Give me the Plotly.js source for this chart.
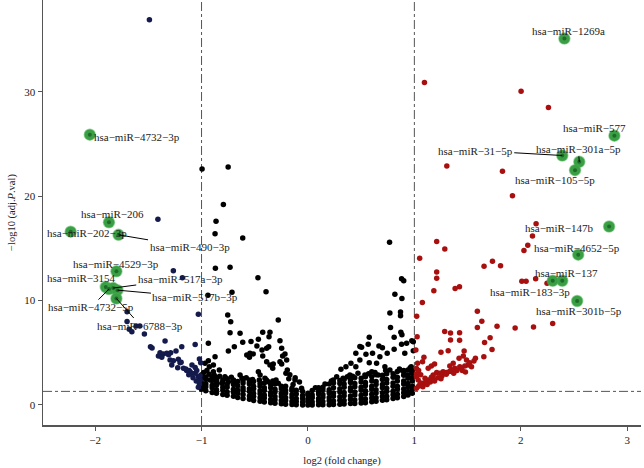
<!DOCTYPE html>
<html>
<head>
<meta charset="utf-8">
<script src="https://cdn.plot.ly/plotly-3.0.1.min.js"></script>
<style>
  html, body { margin: 0; padding: 0; background: #fff; }
  #plot { width: 644px; height: 468px; }
</style>
</head>
<body>
<div id="plot"></div>
<script>
// dense cloud of non-significant miRNAs, read column by column (x, then y values)
let denseX = [-1.00, -0.96, -0.90, -0.86, -0.80, -0.76, -0.70, -0.66, -0.61, -0.55, -0.51,
  -0.45, -0.41, -0.35, -0.31, -0.25, -0.21, -0.15, -0.11, -0.05, 0.00, 0.04, 0.10, 0.14,
  0.20, 0.24, 0.30, 0.34, 0.40, 0.44, 0.50, 0.54, 0.60, 0.64, 0.70, 0.74, 0.80, 0.84, 0.90, 0.94, 0.98];
let denseY = [
  [1.5, 1.85, 2.1, 2.55, 2.9], [1.35, 1.75, 2.0, 2.45, 2.65], [1.2, 1.65, 1.9, 2.35, 2.7],
  [1.12, 1.45, 1.9, 2.15, 2.6], [1.0, 1.42, 1.7, 2.15, 2.4], [0.92, 1.25, 1.7, 1.95, 2.5],
  [0.83, 1.22, 1.5, 1.95, 2.3], [0.72, 1.12, 1.4, 1.85, 2.25], [0.62, 1.0, 1.38, 1.65, 2.1, 2.4],
  [0.55, 0.85, 1.28, 1.55, 2.0, 2.15], [0.43, 0.82, 1.1, 1.55, 1.8, 2.25], [0.36, 0.68, 1.08, 1.35, 1.8, 2.05],
  [0.28, 0.66, 0.95, 1.38, 1.65, 2.1], [0.21, 0.52, 0.92, 1.2, 1.65, 1.95], [0.16, 0.5, 0.82, 1.25, 1.5, 2.02],
  [0.11, 0.43, 0.82, 1.1, 1.55, 1.8], [0.06, 0.42, 0.72, 1.15, 1.4, 1.8], [0.04, 0.33, 0.72, 1.0, 1.42, 1.6],
  [0.02, 0.32, 0.62, 1.05, 1.4], [0.0, 0.28, 0.62, 0.9, 1.3], [0.0, 0.32, 0.58, 0.95, 1.12],
  [0.0, 0.28, 0.68, 0.95, 1.38], [0.01, 0.35, 0.62, 1.05, 1.28, 1.65], [0.02, 0.33, 0.73, 1.0, 1.45, 1.7],
  [0.03, 0.4, 0.72, 1.15, 1.45, 2.0], [0.05, 0.38, 0.83, 1.15, 1.65, 2.1], [0.06, 0.45, 0.78, 1.25, 1.55, 2.05, 2.35],
  [0.1, 0.42, 0.88, 1.2, 1.7, 2.0, 2.45], [0.13, 0.52, 0.86, 1.35, 1.65, 2.15, 2.4], [0.15, 0.48, 0.95, 1.25, 1.75, 2.05, 2.6],
  [0.19, 0.57, 0.92, 1.4, 1.7, 2.2, 2.55], [0.22, 0.58, 1.05, 1.35, 1.85, 2.15, 2.7], [0.3, 0.67, 1.02, 1.5, 1.8, 2.3, 2.7],
  [0.35, 0.68, 1.15, 1.45, 1.95, 2.25, 2.9], [0.44, 0.82, 1.17, 1.65, 1.95, 2.45, 2.85], [0.5, 0.83, 1.3, 1.6, 2.1, 2.45, 3.0],
  [0.62, 0.98, 1.32, 1.8, 2.1, 2.65, 3.0], [0.7, 1.03, 1.5, 1.8, 2.3, 2.65, 3.2], [0.82, 1.18, 1.52, 2.0, 2.3, 2.85, 3.15],
  [0.95, 1.28, 1.75, 2.05, 2.55, 2.85, 3.35], [1.12, 1.48, 1.8, 2.3, 2.6, 3.05, 3.3]
];

// scattered black (not significant by fold change)
let blackX = [-0.995, -0.75, -0.795, -0.864, -0.873, -0.613, -0.87, -0.732, -0.47, -0.394, -0.714, -0.94,
  -0.754, -0.726, -0.732, -0.638, -0.936, -0.692, -0.748, -0.613, -0.535, -0.48, -0.466, -0.425, -0.357, -0.279,
  -0.366, -0.263, -0.432, -0.388, -0.369, -0.425, -0.247, -0.238, -0.545, -0.55, -0.873, -0.936, -0.575, -0.514,
  -0.216, -0.2, -0.967, -0.927, -0.889, -0.833, -0.889, -0.95, -0.388, -0.357, -0.331, -0.326, -0.263, -0.247,
  -0.194, -0.207, -0.466, -0.45, -0.457, -0.638, -0.55, -0.404, -0.373, -0.30, -0.279, -0.122, -0.70, -0.685,
  -0.748, -0.81, -0.857, -0.92, -0.17, -0.12, -0.08, -0.18, -0.98, -0.93, -0.88, -0.83, -0.78, -0.72, -0.62,
  -0.58, -0.52, -0.39, -0.33, -0.14, -0.06,
  0.767, 0.88, 0.90, 0.817, 0.883, 0.77, 0.87, 0.87, 0.776, 0.873, 0.81, 0.883, 0.576, 0.566, 0.488, 0.504,
  0.45, 0.607, 0.667, 0.70, 0.745, 0.676, 0.545, 0.488, 0.576, 0.81, 0.88, 0.927, 0.91, 0.976, 0.99, 0.99,
  0.404, 0.357, 0.31, 0.45, 0.645, 0.723, 0.77, 0.864, 0.90, 0.967, 0.97, 0.27, 0.238, 0.33, 0.394, 0.47,
  0.535, 0.6, 0.66, 0.707, 0.817, 0.927, 0.07, 0.16, 0.22, 0.37, 0.42, 0.57, 0.63, 0.73, 0.86, 0.96];
let blackY = [22.6, 22.8, 19.2, 17.6, 16.4, 16.0, 13.1, 13.2, 12.2, 10.85, 10.8, 10.5,
  8.62, 7.98, 6.93, 6.87, 5.91, 5.58, 5.17, 6.0, 6.07, 5.65, 6.29, 6.96, 6.96, 8.14,
  6.54, 6.16, 5.27, 5.43, 5.58, 4.69, 5.43, 4.69, 4.95, 4.57, 4.63, 4.24, 4.79, 4.89,
  4.89, 4.31, 3.99, 3.67, 3.83, 3.35, 3.19, 3.29, 4.15, 3.83, 3.51, 3.93, 4.15, 3.93,
  3.35, 3.03, 3.19, 2.87, 2.39, 2.87, 2.39, 2.55, 2.23, 2.39, 2.07, 2.39, 2.39, 2.07,
  2.23, 2.07, 2.39, 2.39, 2.9, 2.6, 2.2, 2.5, 3.1, 2.95, 2.85, 2.75, 2.7, 2.65, 2.55,
  2.6, 2.45, 2.4, 2.3, 1.95, 1.6,
  15.6, 12.1, 11.9, 10.6, 10.2, 8.8, 8.9, 8.55, 7.41, 6.96, 6.48, 6.73, 6.48, 5.81, 5.59, 5.52,
  4.95, 4.95, 5.65, 5.49, 4.95, 4.63, 4.86, 4.31, 4.05, 5.33, 5.81, 5.91, 4.95, 6.16, 6.05, 5.2,
  3.99, 3.67, 3.41, 3.67, 3.99, 3.67, 3.35, 3.35, 3.29, 3.29, 3.67, 2.71, 2.39, 2.55, 2.87, 3.03,
  2.87, 3.19, 2.87, 2.55, 2.71, 2.87, 1.65, 2.0, 2.3, 2.7, 2.75, 3.0, 3.1, 3.3, 3.45, 3.55];

// down-regulated (blue)
let downX = [-1.49, -1.41, -1.265, -1.18, -1.03, -1.70, -1.70, -1.68, -1.655, -1.615, -1.58, -1.537, -1.48,
  -1.465, -1.343, -1.39, -1.405, -1.36, -1.327, -1.29, -1.186, -1.24, -1.296, -1.28, -1.218, -1.202, -1.224,
  -1.17, -1.14, -1.108, -1.06, -1.02, -1.008, -1.09, -1.06, -1.06, -1.03, -1.014, -1.02, -1.148, -1.092,
  -1.045, -1.014, -1.374, -1.31, -1.265, -1.192, -1.117, -1.05, -1.08, -1.03, -1.12];
let downY = [36.9, 17.8, 12.86, 12.2, 8.69, 8.94, 8.0, 7.25, 7.02, 7.57, 7.57, 6.8, 5.58,
  5.45, 6.13, 5.01, 4.69, 4.89, 4.95, 5.01, 5.58, 5.17, 4.31, 3.83, 4.37, 4.05, 3.57,
  3.51, 3.29, 3.19, 5.8, 4.41, 4.05, 3.83, 3.6, 3.03, 2.71, 2.39, 2.01, 3.45, 3.03,
  3.29, 2.81, 4.57, 4.82, 4.24, 4.09, 3.29, 2.3, 2.6, 1.7, 2.9];

// up-regulated (red)
let upX = [1.095, 2.003, 2.26, 1.305, 1.828, 1.922, 2.144, 2.11, 2.066, 2.03, 1.21, 1.286, 1.05, 1.655,
  1.734, 1.81, 1.21, 1.21, 1.183, 1.383, 1.424, 2.01, 2.05, 2.14, 2.247, 1.075, 1.022, 1.592, 1.634,
  1.592, 1.777, 1.947, 2.12, 2.30, 1.285, 1.34, 1.425, 1.34, 1.425, 1.66, 1.712, 1.73, 1.026, 1.014,
  1.25, 1.318, 1.468, 1.574, 1.653, 1.09, 1.077, 1.16, 1.19, 1.13, 1.365, 1.42, 1.46, 1.49, 1.505,
  1.52, 1.537, 1.333, 1.38, 1.427, 1.474, 1.27, 1.30, 1.35, 1.40, 1.44, 1.177, 1.21, 1.24, 1.10,
  1.13, 1.16, 1.083, 1.036, 1.02, 1.05, 1.11, 1.02, 1.04, 1.06, 1.08, 1.12, 1.15, 1.18, 1.22,
  1.26, 1.30, 1.02, 1.02, 1.04, 1.06, 1.03, 1.33, 1.37, 1.45, 1.48, 1.56, 1.25, 1.19];
let upY = [30.9, 30.05, 28.5, 22.9, 22.4, 20.05, 17.37, 16.2, 15.3, 14.8, 15.65, 14.94, 14.05, 13.3,
  13.76, 13.35, 12.75, 12.15, 10.95, 11.15, 11.33, 11.85, 11.85, 12.1, 11.65, 9.82, 8.5, 8.98, 8.02,
  7.42, 7.55, 7.38, 7.46, 7.8, 7.05, 6.9, 6.92, 6.23, 6.2, 5.98, 6.44, 5.31, 6.54, 5.27,
  5.05, 5.2, 5.17, 4.47, 4.63, 4.57, 4.15, 3.74, 3.93, 3.51, 3.99, 4.47, 4.69, 4.31, 3.83,
  4.05, 3.67, 3.74, 3.51, 3.67, 3.74, 3.19, 3.1, 3.35, 3.29, 3.51, 2.87, 3.1, 3.03, 2.55,
  2.39, 2.65, 2.07, 2.39, 2.71, 1.92, 2.23, 1.6, 1.8, 2.1, 1.75, 1.95, 2.2, 2.45, 2.6,
  2.8, 2.95, 3.0, 3.5, 3.3, 2.9, 4.0, 3.2, 3.05, 3.3, 3.15, 4.2, 2.5, 2.3];

// highlighted miRNAs
let hitNames = ["hsa−miR−1269a", "hsa−miR−577", "hsa−miR−31−5p", "hsa−miR−301a−5p", "hsa−miR−105−5p",
  "hsa−miR−147b", "hsa−miR−4652−5p", "hsa−miR−137", "hsa−miR−183−3p", "hsa−miR−301b−5p",
  "hsa−miR−4732−3p", "hsa−miR−206", "hsa−miR−202−3p", "hsa−miR−490−3p", "hsa−miR−4529−3p",
  "hsa−miR−3154", "hsa−miR−4732−5p", "hsa−miR−517a−3p", "hsa−miR−517b−3p", "hsa−miR−6788−3p"];
let hitX = [2.41, 2.88, 2.39, 2.55, 2.51, 2.83, 2.54, 2.39, 2.30, 2.53,
  -2.05, -1.87, -2.23, -1.78, -1.80, -1.90, -1.87, -1.83, -1.79, -1.80];
let hitY = [35.1, 25.8, 23.9, 23.3, 22.5, 17.1, 14.4, 11.9, 11.9, 9.96,
  25.9, 17.5, 16.6, 16.3, 12.8, 11.3, 11.1, 11.2, 11.0, 10.2];

// flatten dense columns
let cloudX = [], cloudY = [];
denseX.forEach((x, i) => {
  denseY[i].forEach(y => { cloudX.push(x); cloudY.push(y); });
});

// label placement (pixel offsets from point to text centre) and whether a leader line shows
let labelAx = [4, -20, -87, -1, -20, -50, -1, 4, -23, 2, 47, 4, 16, 71, 0, -24, -18, 67, 78, 24];
let labelAy = [-8, -8, -5, -13, 10, 2, -7, -8, 11, 10, 2, -8, 1, 12, -7, -9, 18, -9, 7, 27];
let labelLine = [false, false, true, true, false, false, false, false, false, false,
  false, false, false, true, false, false, true, true, true, true];

let fontFam = "Liberation Serif, Times New Roman, serif";

function pts(x, y, color, size) {
  return {
    x: x, y: y, type: "scatter", mode: "markers", hoverinfo: "skip",
    marker: { color: color, size: size }
  };
}

let traces = [
  pts(cloudX, cloudY, "#000000", 5.5),
  pts(blackX, blackY, "#000000", 5.5),
  pts(downX, downY, "#141a4c", 5.5),
  pts(upX, upY, "#a80f0f", 5.5),
  { x: hitX, y: hitY, type: "scatter", mode: "markers", hoverinfo: "skip",
    marker: { color: "#3a9e44", size: 11, line: { color: "rgba(70,175,80,0.5)", width: 1.5 } } },
  pts(hitX, hitY, "#1f6a28", 4)
];

let annotations = hitNames.map((name, i) => ({
  x: hitX[i], y: hitY[i], text: name,
  showarrow: true, ax: labelAx[i], ay: labelAy[i],
  arrowhead: 0, arrowwidth: 1, standoff: 0,
  arrowcolor: labelLine[i] ? "#000" : "rgba(0,0,0,0)",
  font: { family: fontFam, size: 11, color: "#222" }
}));

let threshLine = { color: "#555", width: 1, dash: "dashdot" };
let shapes = [
  { type: "line", xref: "x", yref: "paper", x0: -1, x1: -1, y0: 0, y1: 1, line: threshLine, layer: "below" },
  { type: "line", xref: "x", yref: "paper", x0: 1, x1: 1, y0: 0, y1: 1, line: threshLine, layer: "below" },
  { type: "line", xref: "paper", yref: "y", x0: 0, x1: 1, y0: 1.3, y1: 1.3, line: threshLine, layer: "below" }
];

let layout = {
  width: 644, height: 468,
  margin: { l: 43, r: 3, t: 0, b: 43 },
  paper_bgcolor: "#fff", plot_bgcolor: "#fff",
  showlegend: false,
  font: { family: fontFam, size: 11, color: "#222" },
  xaxis: {
    range: [-2.49, 3.13], tickvals: [-2, -1, 0, 1, 2, 3],
    showgrid: false, zeroline: false, showline: true, linecolor: "#555", linewidth: 1.5,
    ticks: "outside", ticklen: 4, tickcolor: "#555",
    title: { text: "log2 (fold change)", font: { family: fontFam, size: 10.5 }, standoff: 12 },
    automargin: false
  },
  yaxis: {
    range: [-1.92, 38.8], tickvals: [0, 10, 20, 30],
    showgrid: false, zeroline: false, showline: true, linecolor: "#555", linewidth: 1.5,
    ticks: "outside", ticklen: 4, tickcolor: "#555",
    title: { text: "−log10 (adj.<i>P</i>.val)", font: { family: fontFam, size: 10.5 }, standoff: 6 },
    automargin: false
  },
  shapes: shapes,
  annotations: annotations
};

Plotly.newPlot("plot", traces, layout, { staticPlot: true, displayModeBar: false });
</script>
</body>
</html>
